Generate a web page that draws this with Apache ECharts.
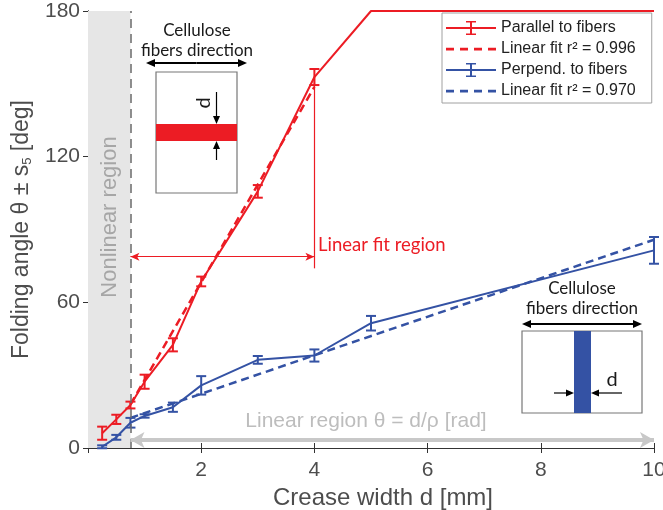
<!DOCTYPE html>
<html>
<head>
<meta charset="utf-8">
<script src="https://cdn.jsdelivr.net/npm/echarts@6/dist/echarts.min.js"></script>
<style>
  html, body { margin: 0; padding: 0; background: #fff; }
  #main { width: 663px; height: 510px; }
</style>
</head>
<body>
<div id="main"></div>
<script>
// crease width d [mm]
var widthParallel = [0.25, 0.5, 0.75, 1, 1.5, 2, 3, 4, 5, 10];
var angleParallel = [6.1, 11.8, 17.7, 27.3, 42.5, 68.6, 105.7, 152.8, 180, 180];
var errParallel   = [2.7, 1.9, 1.4, 2.9, 2.7, 2.0, 2.6, 3.3, 0, 0];

var widthPerp = [0.25, 0.5, 0.75, 1, 1.5, 2, 3, 4, 5, 10];
var anglePerp = [0.5, 4.4, 10.4, 13.2, 16.8, 25.8, 36.3, 38.1, 51.4, 81.4];
var errPerp   = [0.6, 1.0, 2.0, 0.7, 1.9, 3.8, 1.6, 2.5, 3.0, 5.5];

// linear fits (end points)
var fitParallelX = [0.75, 4];
var fitParallelY = [18.0, 148.7];
var fitPerpX = [0.75, 10];
var fitPerpY = [12.4, 85.8];

var xTicks = [0, 2, 4, 6, 8, 10];
var yTicks = [0, 60, 120, 180];

var RED = '#ec1c24';
var BLUE = '#3452a4';
var AXIS = '#4d4d4d';
var FONT = 'Liberation Sans';

function pairs(xs, ys) {
  return xs.map(function (x, i) { return [x, ys[i]]; });
}
function errData(xs, ys, es) {
  var out = [];
  xs.forEach(function (x, i) { if (es[i] > 0) out.push([x, ys[i], es[i]]); });
  return out;
}
function errRenderer(color) {
  return function (params, api) {
    var x = api.value(0), y = api.value(1), e = api.value(2);
    var lo = api.coord([x, y - e]);
    var hi = api.coord([x, y + e]);
    var hw = 5;
    var st = { stroke: color, lineWidth: 2 };
    return {
      type: 'group',
      children: [
        { type: 'line', shape: { x1: lo[0], y1: lo[1], x2: hi[0], y2: hi[1] }, style: st },
        { type: 'line', shape: { x1: lo[0] - hw, y1: lo[1], x2: lo[0] + hw, y2: lo[1] }, style: st },
        { type: 'line', shape: { x1: hi[0] - hw, y1: hi[1], x2: hi[0] + hw, y2: hi[1] }, style: st }
      ]
    };
  };
}

// small arrow helper for the insets (pixel drawing)
function arrow(x1, y1, x2, y2, color, w, hl, hw) {
  var dx = x2 - x1, dy = y2 - y1, len = Math.sqrt(dx * dx + dy * dy);
  var ux = dx / len, uy = dy / len;
  var bx = x2 - ux * hl, by = y2 - uy * hl;
  return [
    { type: 'line', z: 10, shape: { x1: x1, y1: y1, x2: bx, y2: by }, style: { stroke: color, lineWidth: w } },
    { type: 'polygon', z: 10, shape: { points: [[x2, y2], [bx - uy * hw, by + ux * hw], [bx + uy * hw, by - ux * hw]] }, style: { fill: color } }
  ];
}
function dblArrow(x1, y, x2, color) {
  var mid = (x1 + x2) / 2;
  return arrow(mid, y, x1, y, color, 2, 9, 4).concat(arrow(mid, y, x2, y, color, 2, 9, 4));
}

var errIcon = 'path://M0,6h50v2h-50z M24,0h2v14h-2z M20,0h10v1.6h-10z M20,12.4h10v1.6h-10z';
var dashIcon = 'path://M0,5.8h8v2.6h-8z M14,5.8h8v2.6h-8z M28,5.8h8v2.6h-8z M42,5.8h8v2.6h-8z M0,0h0.01v14h-0.01z';

var chart = echarts.init(document.getElementById('main'));

var insetText = { fontFamily: 'Lato', fontSize: 17, fill: '#1a1a1a', align: 'center', verticalAlign: 'middle' };

var graphics = [
  // inset 1 (parallel)
  { type: 'text', z: 10, x: 197, y: 31, style: Object.assign({ text: 'Cellulose' }, insetText) },
  { type: 'text', z: 10, x: 197, y: 51, style: Object.assign({ text: 'fibers direction' }, insetText) },
  { type: 'rect', z: 10, shape: { x: 156, y: 72, width: 81, height: 121 }, style: { fill: '#fff', stroke: '#777', lineWidth: 1.2 } },
  { type: 'rect', z: 10, shape: { x: 156, y: 124, width: 81, height: 17 }, style: { fill: RED } },
  { type: 'text', z: 10, x: 204, y: 103, rotation: Math.PI / 2, style: Object.assign({}, insetText, { text: 'd', fontSize: 20 }) },
  // inset 2 (perpendicular)
  { type: 'text', z: 10, x: 582, y: 289, style: Object.assign({ text: 'Cellulose' }, insetText) },
  { type: 'text', z: 10, x: 582, y: 309, style: Object.assign({ text: 'fibers direction' }, insetText) },
  { type: 'rect', z: 10, shape: { x: 522, y: 331, width: 120, height: 82 }, style: { fill: '#fff', stroke: '#777', lineWidth: 1.2 } },
  { type: 'rect', z: 10, shape: { x: 574, y: 331, width: 17, height: 82 }, style: { fill: BLUE } },
  { type: 'text', z: 10, x: 612, y: 380, style: Object.assign({}, insetText, { text: 'd', fontSize: 20 }) },
  // region labels
  { type: 'text', z: 10, x: 110, y: 217, rotation: Math.PI / 2,
    style: { text: 'Nonlinear region', fontFamily: FONT, fontSize: 22, fill: '#a6a6a6', align: 'center', verticalAlign: 'middle' } },
  { type: 'text', z: 10, x: 318, y: 245,
    style: { text: 'Linear fit region', fontFamily: 'Lato', fontSize: 18.5, fill: RED, align: 'left', verticalAlign: 'middle' } },
  { type: 'text', z: 10, x: 366, y: 421,
    style: { text: 'Linear region θ = d/ρ [rad]', fontFamily: FONT, fontSize: 21, fill: '#bdbdbd', align: 'center', verticalAlign: 'middle' } }
]
  .concat(dblArrow(146, 63, 247, '#000'))
  .concat(arrow(216.5, 92, 216.5, 124, '#000', 1.2, 8, 3.5))
  .concat(arrow(216.5, 160, 216.5, 141, '#000', 1.2, 8, 3.5))
  .concat(dblArrow(522, 324, 642, '#000'))
  .concat(arrow(554, 393, 574, 393, '#000', 1.2, 8, 3.5))
  .concat(arrow(622, 393, 591, 393, '#000', 1.2, 8, 3.5));

var option = {
  animation: false,
  backgroundColor: '#fff',
  textStyle: { fontFamily: FONT },
  grid: { left: 88, right: 9, top: 11, bottom: 62, outerBoundsMode: 'none' },
  legend: {
    orient: 'vertical',
    left: 442,
    top: 13,
    itemWidth: 50,
    itemHeight: 14,
    itemGap: 5,
    padding: [7, 16, 4, 4],
    borderColor: '#a0a0a0',
    borderWidth: 1,
    backgroundColor: '#fff',
    textStyle: { fontSize: 16, color: '#222', fontFamily: FONT },
    data: [
      { name: 'Parallel to fibers', icon: errIcon },
      { name: 'Linear fit r² = 0.996', icon: dashIcon },
      { name: 'Perpend. to fibers', icon: errIcon },
      { name: 'Linear fit r² = 0.970', icon: dashIcon }
    ]
  },
  xAxis: [
    {
      type: 'value', min: xTicks[0], max: xTicks[xTicks.length - 1], interval: 2,
      position: 'bottom',
      axisLine: { lineStyle: { color: '#333', width: 1 } },
      axisTick: { inside: true, length: 5, lineStyle: { color: '#333' } },
      axisLabel: { fontSize: 21, color: AXIS, margin: 12, formatter: function (v) { return v === 0 ? '' : v; } },
      splitLine: { show: false },
      name: 'Crease width d [mm]', nameLocation: 'middle', nameGap: 34,
      nameTextStyle: { fontSize: 24, color: AXIS, padding: [0, 0, 0, 24] }
    },
    {
      type: 'value', min: xTicks[0], max: xTicks[xTicks.length - 1], interval: 2,
      position: 'top',
      axisLine: { lineStyle: { color: '#333', width: 1 } },
      axisTick: { inside: true, length: 5, lineStyle: { color: '#333' } },
      axisLabel: { show: false },
      splitLine: { show: false }
    }
  ],
  yAxis: [
    {
      type: 'value', min: yTicks[0], max: yTicks[yTicks.length - 1], interval: 60,
      position: 'left',
      axisLine: { show: true, lineStyle: { color: '#333', width: 1 } },
      axisTick: { show: true, inside: true, length: 5, lineStyle: { color: '#333' } },
      axisLabel: { fontSize: 21, color: AXIS, margin: 8 },
      splitLine: { show: false },
      name: 'Folding angle θ ± s{sub|5} [deg]', nameLocation: 'middle', nameGap: 54,
      nameTextStyle: {
        fontSize: 23, color: AXIS,
        rich: { sub: { fontSize: 13, color: AXIS, verticalAlign: 'bottom', padding: [12, 0, 0, 0] } }
      }
    },
    {
      type: 'value', min: yTicks[0], max: yTicks[yTicks.length - 1], interval: 60,
      position: 'right',
      axisLine: { show: true, lineStyle: { color: '#333', width: 1 } },
      axisTick: { show: true, inside: true, length: 5, lineStyle: { color: '#333' } },
      axisLabel: { show: false },
      splitLine: { show: false }
    }
  ],
  series: [
    {
      // shaded nonlinear region and its dashed border
      type: 'line', data: [], silent: true, z: 0,
      markArea: { silent: true, itemStyle: { color: '#e6e6e6' }, data: [[{ xAxis: 0 }, { xAxis: 0.75 }]] },
      markLine: {
        silent: true, symbol: 'none', label: { show: false },
        lineStyle: { color: '#6a6a6a', type: [9, 6], width: 1.5 },
        data: [{ xAxis: 0.75 }]
      }
    },
    {
      // linear region arrow
      type: 'line', data: [], silent: true, z: 1,
      markLine: {
        silent: true, symbol: ['arrow', 'arrow'], symbolSize: [12, 14], label: { show: false },
        lineStyle: { color: '#c8c8c8', type: 'solid', width: 4 },
        data: [[{ coord: [0.75, 3.3] }, { coord: [10, 3.3] }]]
      }
    },
    {
      // linear fit region arrow
      type: 'line', data: [], silent: true, z: 1,
      markLine: {
        silent: true, symbol: ['arrow', 'arrow'], symbolSize: [6, 9], label: { show: false },
        lineStyle: { color: RED, type: 'solid', width: 1 },
        data: [[{ coord: [0.75, 78.8] }, { coord: [4, 78.8] }]]
      }
    },
    {
      type: 'line', data: [], silent: true, z: 1,
      markLine: {
        silent: true, symbol: 'none', label: { show: false },
        lineStyle: { color: RED, type: 'solid', width: 1.2 },
        data: [[{ coord: [4, 74] }, { coord: [4, 152.8] }]]
      }
    },
    {
      name: 'Parallel to fibers', type: 'line', data: pairs(widthParallel, angleParallel),
      symbol: 'none', color: RED, lineStyle: { color: RED, width: 2 }, z: 4
    },
    {
      type: 'custom', data: errData(widthParallel, angleParallel, errParallel),
      renderItem: errRenderer(RED), z: 4, silent: true
    },
    {
      name: 'Linear fit r² = 0.996', type: 'line', data: pairs(fitParallelX, fitParallelY),
      symbol: 'none', color: RED, lineStyle: { color: RED, width: 2.5, type: [8, 5] }, z: 3
    },
    {
      name: 'Perpend. to fibers', type: 'line', data: pairs(widthPerp, anglePerp),
      symbol: 'none', color: BLUE, lineStyle: { color: BLUE, width: 2 }, z: 4
    },
    {
      type: 'custom', data: errData(widthPerp, anglePerp, errPerp),
      renderItem: errRenderer(BLUE), z: 4, silent: true
    },
    {
      name: 'Linear fit r² = 0.970', type: 'line', data: pairs(fitPerpX, fitPerpY),
      symbol: 'none', color: BLUE, lineStyle: { color: BLUE, width: 2.5, type: [8, 5] }, z: 3
    }
  ],
  graphic: graphics
};

chart.setOption(option);
</script>
</body>
</html>
